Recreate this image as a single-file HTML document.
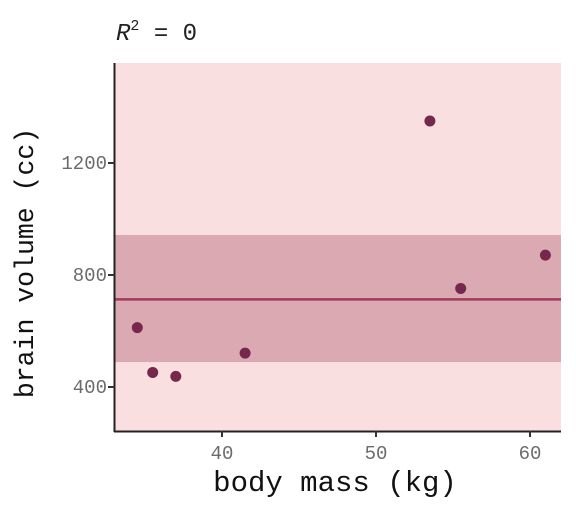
<!DOCTYPE html>
<html><head><meta charset="utf-8"><style>
body{margin:0;background:#fff}
svg{display:block;font-family:"Liberation Mono",monospace}
</style></head><body>
<svg id="chart" width="576" height="512">
<rect x="115" y="63" width="446" height="368" fill="#fadfe0"/>
<g id="marks"></g>
<line x1="114.5" y1="63" x2="114.5" y2="432" stroke="#222" stroke-width="2"/>
<line x1="114" y1="431.5" x2="561" y2="431.5" stroke="#222" stroke-width="2"/>
<g id="ticks"></g>
<text x="116" y="40" font-size="24" fill="#222"><tspan font-style="italic">R</tspan><tspan font-size="15" dy="-10">2</tspan><tspan dy="10"> = 0</tspan></text>
<text x="335" y="491" font-size="29" text-anchor="middle" fill="#111">body mass (kg)</text>
<text transform="translate(33,263) rotate(-90)" font-size="26.5" text-anchor="middle" fill="#111">brain volume (cc)</text>
</svg>
<script>
const masses=[37,35.5,34.5,41.5,55.5,61,53.5];
const brains=[438,452,612,521,752,871,1350];
const fitMean=[713];
const bandLow=[489];
const bandHigh=[943];
const xTicks=[40,50,60];
const yTicks=[400,800,1200];
const NS="http://www.w3.org/2000/svg";
const xs=v=>222+(v-40)*15.4;
const ys=v=>387-(v-400)*0.28;
const marks=document.getElementById('marks'),ticks=document.getElementById('ticks');
function mk(tag,attrs,parent){const e=document.createElementNS(NS,tag);for(const k in attrs)e.setAttribute(k,attrs[k]);parent.appendChild(e);return e;}
let b=mk('rect',{x:115,y:ys(bandHigh[0]),width:446,height:ys(bandLow[0])-ys(bandHigh[0]),fill:'#dba9b1'},marks);


let l=mk('line',{x1:115,x2:561,y1:ys(fitMean[0]),y2:ys(fitMean[0]),stroke:'#a33a5e','stroke-width':2.5},marks);


masses.forEach((m,i)=>{
 const c=mk('circle',{cx:xs(m),cy:ys(brains[i]),r:5.5,fill:'#76274c'},marks);
 
 
});
xTicks.forEach(t=>{
 const x=xs(t);
 const tl=mk('line',{x1:x,x2:x,y1:431,y2:437,stroke:'#333','stroke-width':2},ticks);
 
 
 const tx=mk('text',{x:x,y:459,'font-size':19,'text-anchor':'middle',fill:'#6b6b6b'},ticks);
 tx.textContent=t;
 
 
});
yTicks.forEach(t=>{
 const y=ys(t);
 const tl=mk('line',{x1:108,x2:114,y1:y,y2:y,stroke:'#333','stroke-width':2},ticks);
 
 
 const tx=mk('text',{x:107,y:y+6,'font-size':19,'text-anchor':'end',fill:'#6b6b6b'},ticks);
 tx.textContent=t;
 
 
});
</script>
</body></html>
